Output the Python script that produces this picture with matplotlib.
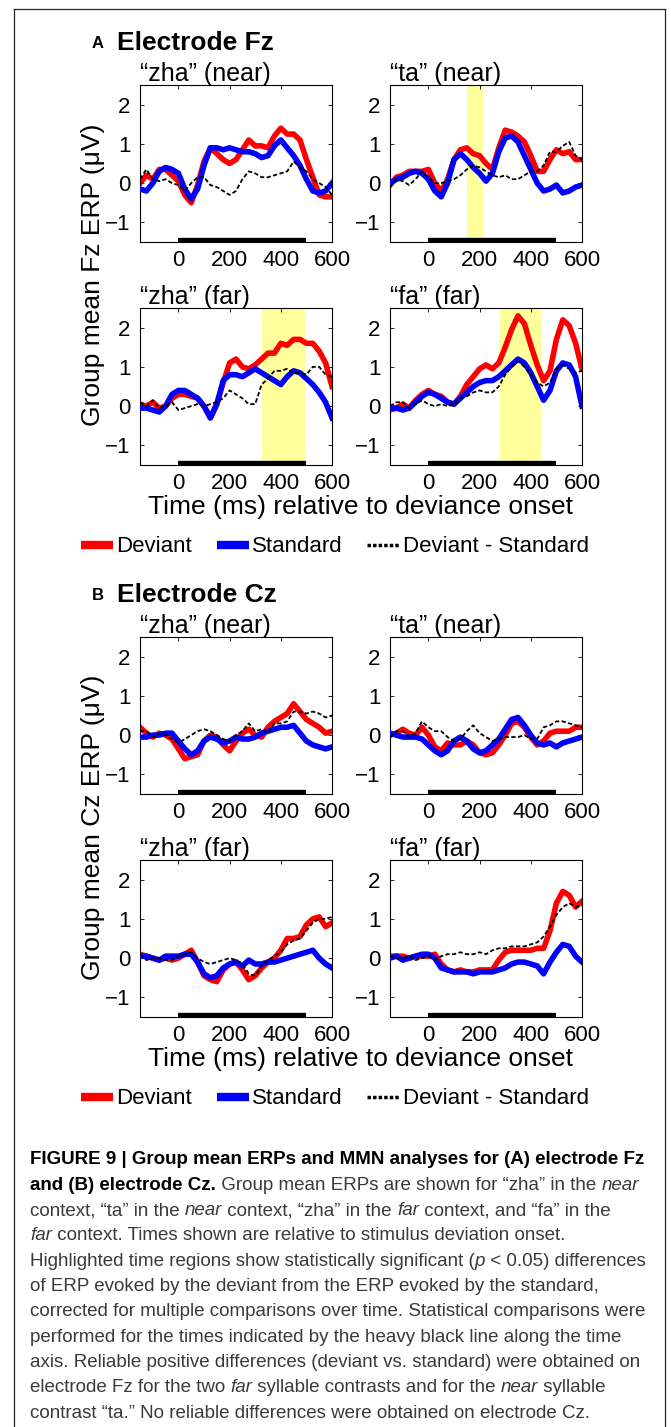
import matplotlib
matplotlib.use("Agg")
import matplotlib.pyplot as plt
from matplotlib.lines import Line2D

plt.rcParams['font.family'] = ['Liberation Sans', 'DejaVu Sans']

# ---- data (25 ms steps) ----
TIME_MS = [-150, -125, -100, -75, -50, -25, 0, 25, 50, 75, 100, 125, 150, 175,
           200, 225, 250, 275, 300, 325, 350, 375, 400, 425, 450, 475, 500,
           525, 550, 575, 600]

# electrode Fz
fz_zha_near_dev = [0.0, 0.2, 0.1, 0.35, 0.35, 0.2, 0.05, -0.3, -0.5, -0.05, 0.55, 0.9, 0.75, 0.6, 0.5, 0.6,
                   0.85, 1.1, 0.95, 0.95, 0.9, 1.2, 1.4, 1.25, 1.25, 1.1, 0.6, 0.15, -0.3, -0.35, -0.35]
fz_zha_near_std = [-0.15, -0.2, 0.0, 0.3, 0.4, 0.35, 0.25, -0.15, -0.4, -0.15, 0.45, 0.9, 0.9, 0.85, 0.9, 0.85,
                   0.8, 0.8, 0.75, 0.65, 0.7, 0.95, 1.1, 0.9, 0.7, 0.45, 0.1, -0.2, -0.25, -0.2, 0.0]
fz_zha_near_diff = [0.1, 0.35, 0.1, 0.05, 0.1, 0.0, -0.05, -0.2, 0.0, 0.15, 0.15, -0.05, -0.1, -0.2, -0.3, -0.2,
                    0.1, 0.3, 0.25, 0.15, 0.15, 0.2, 0.25, 0.3, 0.55, 0.4, 0.3, 0.1, 0.0, -0.1, -0.3]

fz_ta_near_dev = [-0.05, 0.15, 0.2, 0.3, 0.3, 0.3, 0.35, 0.0, -0.2, 0.1, 0.6, 0.85, 0.9, 0.75, 0.7, 0.5,
                  0.35, 0.9, 1.35, 1.3, 1.2, 1.05, 0.7, 0.3, 0.3, 0.6, 0.85, 0.75, 0.8, 0.6, 0.6]
fz_ta_near_std = [0.0, 0.1, 0.15, 0.25, 0.3, 0.25, 0.1, -0.2, -0.35, 0.0, 0.6, 0.75, 0.6, 0.4, 0.25, 0.05,
                  0.25, 0.8, 1.15, 1.2, 1.05, 0.7, 0.35, 0.0, -0.2, -0.15, -0.05, -0.25, -0.2, -0.1, -0.05]
fz_ta_near_diff = [-0.1, 0.1, 0.05, -0.05, 0.1, 0.3, 0.15, 0.0, 0.0, 0.05, 0.1, 0.2, 0.35, 0.45, 0.4, 0.3,
                   0.2, 0.15, 0.2, 0.1, 0.1, 0.2, 0.3, 0.3, 0.45, 0.8, 0.8, 0.95, 1.05, 0.7, 0.6]

fz_zha_far_dev = [0.05, 0.0, 0.1, -0.05, 0.0, 0.2, 0.3, 0.3, 0.25, 0.2, 0.0, -0.3, 0.05, 0.6, 1.1, 1.2,
                  1.0, 0.95, 1.05, 1.2, 1.35, 1.35, 1.6, 1.55, 1.7, 1.7, 1.6, 1.6, 1.4, 1.1, 0.5]
fz_zha_far_std = [-0.05, -0.05, -0.1, -0.15, 0.0, 0.3, 0.4, 0.4, 0.3, 0.2, 0.0, -0.3, 0.05, 0.65, 0.8, 0.8,
                  0.75, 0.85, 0.95, 0.85, 0.75, 0.65, 0.55, 0.75, 0.9, 0.85, 0.7, 0.55, 0.35, 0.1, -0.3]
fz_zha_far_diff = [0.1, 0.0, 0.15, -0.05, 0.0, 0.1, -0.1, -0.05, 0.0, 0.05, 0.0, 0.05, 0.1, 0.2, 0.4, 0.3,
                   0.2, 0.05, 0.05, 0.55, 0.7, 0.9, 0.9, 0.95, 0.85, 0.85, 0.8, 1.0, 1.0, 0.8, 0.75]

fz_fa_far_dev = [-0.1, -0.05, 0.05, -0.05, 0.15, 0.3, 0.4, 0.3, 0.25, 0.1, 0.05, 0.25, 0.55, 0.75, 0.95, 1.05,
                 0.95, 1.1, 1.5, 1.95, 2.3, 2.1, 1.55, 1.05, 0.65, 0.9, 1.7, 2.2, 2.05, 1.6, 0.95]
fz_fa_far_std = [-0.05, -0.05, -0.1, -0.05, 0.1, 0.25, 0.35, 0.3, 0.2, 0.1, 0.05, 0.2, 0.35, 0.5, 0.6, 0.65,
                 0.65, 0.75, 0.9, 1.05, 1.2, 1.1, 0.85, 0.5, 0.15, 0.4, 0.9, 1.1, 1.05, 0.75, 0.0]
fz_fa_far_diff = [0.0, 0.1, 0.1, -0.05, 0.05, 0.15, 0.05, 0.0, 0.05, 0.0, 0.05, 0.2, 0.25, 0.35, 0.4, 0.35,
                  0.35, 0.5, 0.8, 1.0, 1.15, 1.0, 0.8, 0.6, 0.5, 0.6, 0.95, 1.05, 0.95, 0.85, 0.9]

# electrode Cz
cz_zha_near_dev = [0.2, 0.05, -0.05, 0.05, 0.0, -0.1, -0.35, -0.6, -0.55, -0.5, -0.15, 0.0, -0.05, -0.25, -0.4,
                   -0.15, 0.05, 0.15, 0.0, -0.05, 0.2, 0.35, 0.45, 0.55, 0.8, 0.6, 0.4, 0.3, 0.2, 0.05, 0.1]
cz_zha_near_std = [-0.05, -0.05, 0.0, 0.0, 0.05, 0.05, -0.15, -0.35, -0.5, -0.4, -0.15, -0.05, -0.1, -0.2, -0.15,
                   -0.05, -0.1, -0.1, -0.05, 0.05, 0.1, 0.15, 0.2, 0.2, 0.25, 0.05, -0.15, -0.25, -0.3, -0.35, -0.3]
cz_zha_near_diff = [0.1, 0.1, -0.05, 0.05, 0.0, -0.1, -0.2, -0.1, 0.0, 0.1, 0.15, 0.1, 0.0, -0.1, -0.15,
                    0.0, 0.1, 0.3, 0.1, 0.15, 0.05, 0.3, 0.3, 0.35, 0.6, 0.6, 0.55, 0.6, 0.55, 0.45, 0.5]

cz_ta_near_dev = [0.0, 0.05, 0.15, 0.05, 0.0, 0.2, 0.0, -0.3, -0.4, -0.2, -0.25, -0.25, -0.15, -0.25, -0.45,
                  -0.5, -0.45, -0.25, 0.0, 0.3, 0.35, 0.2, -0.05, -0.25, -0.15, 0.05, 0.1, 0.1, 0.1, 0.2, 0.2]
cz_ta_near_std = [0.05, 0.0, -0.05, -0.05, -0.05, -0.1, -0.25, -0.4, -0.5, -0.4, -0.15, -0.05, -0.15, -0.35, -0.45,
                  -0.4, -0.25, -0.1, 0.15, 0.4, 0.45, 0.25, 0.0, -0.2, -0.25, -0.2, -0.3, -0.2, -0.15, -0.1, -0.05]
cz_ta_near_diff = [-0.05, 0.1, 0.1, -0.05, 0.05, 0.35, 0.2, 0.1, 0.1, -0.05, -0.15, -0.1, 0.1, 0.25, 0.05,
                   -0.05, -0.15, -0.1, -0.05, -0.05, -0.05, 0.0, -0.1, -0.1, 0.2, 0.25, 0.35, 0.35, 0.3, 0.25, 0.2]

cz_zha_far_dev = [0.1, 0.05, 0.0, -0.05, 0.0, -0.05, 0.0, 0.1, 0.2, -0.1, -0.45, -0.55, -0.6, -0.3, -0.15,
                  -0.1, -0.3, -0.55, -0.45, -0.25, -0.1, 0.0, 0.2, 0.5, 0.5, 0.55, 0.85, 1.0, 1.05, 0.8, 0.9]
cz_zha_far_std = [0.05, 0.05, 0.0, -0.05, 0.05, 0.05, 0.05, 0.1, 0.1, -0.1, -0.4, -0.5, -0.45, -0.25, -0.15,
                  -0.1, -0.2, -0.05, -0.15, -0.15, -0.1, -0.1, -0.05, 0.0, 0.05, 0.1, 0.15, 0.2, 0.0, -0.15, -0.25]
cz_zha_far_diff = [0.1, -0.05, 0.0, 0.0, -0.05, -0.05, 0.05, 0.1, 0.15, 0.0, -0.1, -0.15, -0.1, -0.05, 0.0,
                   -0.05, -0.15, -0.4, -0.45, -0.2, -0.05, 0.05, 0.15, 0.35, 0.45, 0.5, 0.7, 0.9, 1.0, 1.0, 1.05]

cz_fa_far_dev = [0.05, 0.05, 0.05, 0.0, 0.05, 0.05, 0.05, 0.1, -0.15, -0.3, -0.35, -0.3, -0.35, -0.35, -0.3,
                 -0.3, -0.3, -0.05, 0.15, 0.2, 0.2, 0.2, 0.2, 0.25, 0.25, 0.7, 1.4, 1.7, 1.6, 1.3, 1.45]
cz_fa_far_std = [0.0, 0.05, -0.05, 0.0, 0.05, 0.1, 0.1, 0.0, -0.25, -0.3, -0.35, -0.35, -0.35, -0.4, -0.35,
                 -0.35, -0.35, -0.3, -0.25, -0.15, -0.1, -0.1, -0.15, -0.2, -0.4, -0.1, 0.15, 0.35, 0.3, 0.05, -0.1]
cz_fa_far_diff = [0.05, 0.0, 0.0, 0.05, -0.05, 0.0, 0.05, -0.05, 0.05, 0.1, 0.1, 0.15, 0.1, 0.1, 0.15,
                  0.1, 0.2, 0.25, 0.25, 0.3, 0.3, 0.3, 0.35, 0.4, 0.55, 0.8, 1.1, 1.3, 1.4, 1.3, 1.35]

# significant windows (ms) and the tested window (heavy black line)
fz_ta_near_sig = [150, 215]
fz_zha_far_sig = [325, 493]
fz_fa_far_sig = [280, 438]
TEST_WINDOW = [0, 500]

panel_titles = ['\u201czha\u201d (near)', '\u201cta\u201d (near)', '\u201czha\u201d (far)', '\u201cfa\u201d (far)']
legend_labels = ['Deviant', 'Standard', 'Deviant - Standard']
X_TICKS = [0, 200, 400, 600]
Y_TICKS = [-1, 0, 1, 2]

fz_panels = [(fz_zha_near_dev, fz_zha_near_std, fz_zha_near_diff, None),
             (fz_ta_near_dev, fz_ta_near_std, fz_ta_near_diff, fz_ta_near_sig),
             (fz_zha_far_dev, fz_zha_far_std, fz_zha_far_diff, fz_zha_far_sig),
             (fz_fa_far_dev, fz_fa_far_std, fz_fa_far_diff, fz_fa_far_sig)]
cz_panels = [(cz_zha_near_dev, cz_zha_near_std, cz_zha_near_diff, None),
             (cz_ta_near_dev, cz_ta_near_std, cz_ta_near_diff, None),
             (cz_zha_far_dev, cz_zha_far_std, cz_zha_far_diff, None),
             (cz_fa_far_dev, cz_fa_far_std, cz_fa_far_diff, None)]

caption_lines = [
    [("FIGURE 9 | Group mean ERPs and MMN analyses for (A) electrode Fz", 'b')],
    [("and (B) electrode Cz.", 'b'), (" Group mean ERPs are shown for \u201czha\u201d in the ", 'n'), ("near", 'i')],
    [("context, \u201cta\u201d in the ", 'n'), ("near", 'i'), (" context, \u201czha\u201d in the ", 'n'), ("far", 'i'),
     (" context, and \u201cfa\u201d in the", 'n')],
    [("far", 'i'), (" context. Times shown are relative to stimulus deviation onset.", 'n')],
    [("Highlighted time regions show statistically significant (", 'n'), ("p", 'i'), (" < 0.05) differences", 'n')],
    [("of ERP evoked by the deviant from the ERP evoked by the standard,", 'n')],
    [("corrected for multiple comparisons over time. Statistical comparisons were", 'n')],
    [("performed for the times indicated by the heavy black line along the time", 'n')],
    [("axis. Reliable positive differences (deviant vs. standard) were obtained on", 'n')],
    [("electrode Fz for the two ", 'n'), ("far", 'i'), (" syllable contrasts and for the ", 'n'), ("near", 'i'),
     (" syllable", 'n')],
    [("contrast \u201cta.\u201d No reliable differences were obtained on electrode Cz.", 'n')],
]

# ---- layout (pixels) ----
W, H = 671, 1427
CAP_SIZE = 13.5
fig = plt.figure(figsize=(W / 100, H / 100), dpi=100)
fig.patch.set_facecolor('white')


def fx(x):
    return x / W


def fy(y):
    return 1 - y / H


def draw_section(letter, name, panels, ylab, y0):
    fig.text(fx(92), fy(y0 + 43), letter, fontsize=12, fontweight='bold', va='center')
    fig.text(fx(117), fy(y0 + 43), name, fontsize=19, fontweight='bold', va='center')
    lefts = [140, 390, 140, 390]
    tops = [85, 85, 308, 308]
    for i, (dev, std, diff, sig) in enumerate(panels):
        ax = fig.add_axes([fx(lefts[i]), fy(y0 + tops[i] + 157), 192 / W, 157 / H])
        if sig is not None:
            ax.axvspan(sig[0], sig[1], color='#ffff9c', lw=0, zorder=0)
        ax.plot(TIME_MS, dev, color='#ff0000', lw=4, zorder=2)
        ax.plot(TIME_MS, std, color='#0000ff', lw=4, zorder=3)
        ax.plot(TIME_MS, diff, color='black', lw=1.3, linestyle=(0, (2.4, 1.3)), zorder=4)
        ax.plot(TEST_WINDOW, [-1.5, -1.5], color='black', lw=6, solid_capstyle='butt', zorder=5)
        ax.set_xlim(-150, 600)
        ax.set_ylim(-1.5, 2.5)
        ax.set_xticks(X_TICKS)
        ax.set_yticks(Y_TICKS)
        ax.tick_params(direction='in', top=True, right=True, length=3, width=0.6, labelsize=16)
        ax.tick_params(axis='x', pad=6)
        ax.tick_params(axis='y', pad=7)
        for sp in ax.spines.values():
            sp.set_linewidth(0.8)
        ax.set_title(panel_titles[i], loc='left', fontsize=18, pad=3)
    fig.text(fx(93), fy(y0 + 275), ylab, fontsize=19, rotation=90, ha='center', va='center')
    fig.text(fx(361), fy(y0 + 507), 'Time (ms) relative to deviance onset', fontsize=19,
             ha='center', va='center')
    handles = [Line2D([], [], color='#ff0000', lw=6, solid_capstyle='butt'),
               Line2D([], [], color='#0000ff', lw=6, solid_capstyle='butt'),
               Line2D([], [], color='black', lw=2.5, linestyle=(0, (1, 0.6)))]
    fig.legend(handles, legend_labels, loc='center', bbox_to_anchor=(fx(335), fy(y0 + 547)), ncol=3,
               frameon=False, fontsize=16, handlelength=1.45, handletextpad=0.15, columnspacing=1.1,
               borderaxespad=0, borderpad=0)


draw_section('A', 'Electrode Fz', fz_panels, 'Group mean Fz ERP (\u03bcV)', 0)
draw_section('B', 'Electrode Cz', cz_panels, 'Group mean Cz ERP (\u03bcV)', 552)

# frame around the figure
for xs, ys in [([14, 14], [9, H]), ([14, 665], [9, 9]), ([665, 665], [9, H])]:
    fig.add_artist(Line2D([fx(v) for v in xs], [fy(v) for v in ys], color='#222222', lw=0.9))

# caption with mixed bold / italic runs
renderer = fig.canvas.get_renderer()
styles = {'b': dict(fontweight='bold', color='black'),
          'n': dict(color='#3a3a3a'),
          'i': dict(fontstyle='italic', color='#3a3a3a')}


def run_width(txt, kw):
    t1 = fig.text(0, 0, '|' + txt + '|', fontsize=CAP_SIZE, **kw)
    t2 = fig.text(0, 0, '||', fontsize=CAP_SIZE, **kw)
    w = t1.get_window_extent(renderer).width - t2.get_window_extent(renderer).width
    t1.remove()
    t2.remove()
    return w


for k, parts in enumerate(caption_lines):
    x = 30.0
    y = 1160 + k * 25.3
    for txt, st in parts:
        kw = styles[st]
        fig.text(fx(x), fy(y), txt, fontsize=CAP_SIZE, va='center', ha='left', **kw)
        x += run_width(txt, kw)

fig.savefig('out.png', dpi=100, facecolor='white')
